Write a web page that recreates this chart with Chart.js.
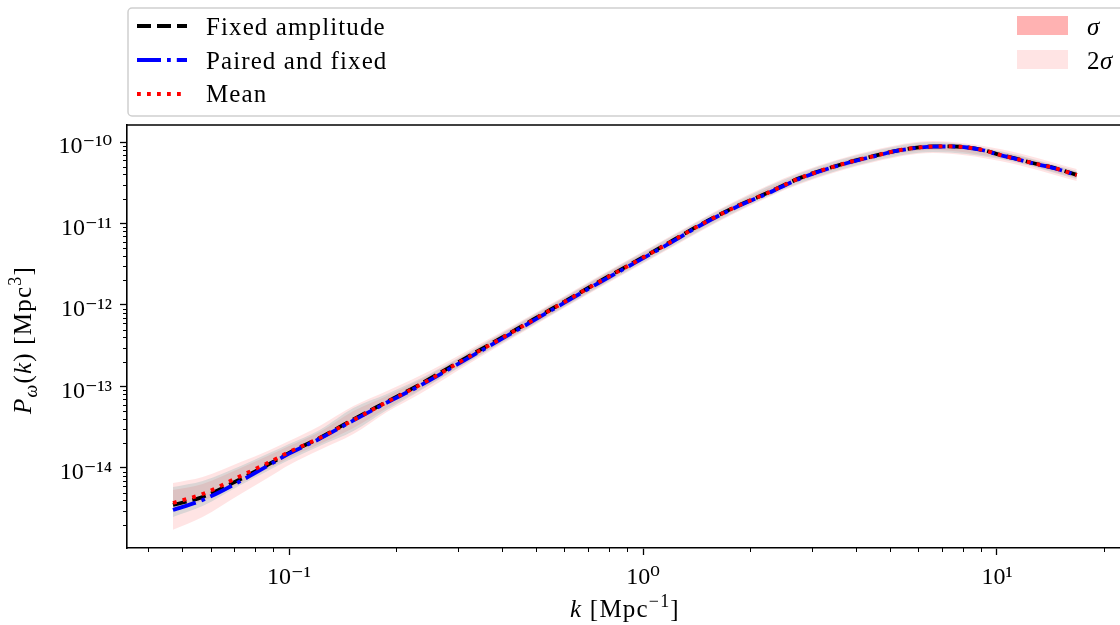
<!DOCTYPE html>
<html><head><meta charset="utf-8">
<script src="https://cdn.jsdelivr.net/npm/chart.js@4.4.1/dist/chart.umd.min.js"></script>
<style>html,body{margin:0;padding:0;background:#fff;overflow:hidden}canvas{display:block}</style>
</head><body>
<canvas id="c" width="1120" height="625"></canvas>
<script>
// ---------------- data ----------------
const kValues = [0.047,0.057,0.073,0.087,0.1,0.122,0.152,0.189,0.234,0.318,0.4,0.49,0.6,0.76,0.95,1.17,1.45,1.8,2.25,2.78,3.84,4.5,5.32,6.6,7.4,8.22,9.2,10.2,11.4,12.6,14.5,16.8];
const fixedAmplitude = [3.52e-15,4.41e-15,7.33e-15,1.09e-14,1.53e-14,2.33e-14,3.95e-14,6.50e-14,1.06e-13,2.28e-13,4.00e-13,6.65e-13,1.10e-12,1.99e-12,3.40e-12,5.65e-12,9.65e-12,1.56e-11,2.38e-11,3.63e-11,5.70e-11,6.75e-11,7.98e-11,8.82e-11,8.86e-11,8.62e-11,7.92e-11,6.96e-11,6.20e-11,5.53e-11,4.81e-11,3.95e-11];
const pairedFixed = [3.05e-15,4.05e-15,6.92e-15,1.06e-14,1.50e-14,2.28e-14,3.83e-14,6.35e-14,1.02e-13,2.18e-13,3.86e-13,6.42e-13,1.07e-12,1.93e-12,3.31e-12,5.50e-12,9.45e-12,1.53e-11,2.34e-11,3.58e-11,5.64e-11,6.68e-11,7.93e-11,8.76e-11,8.82e-11,8.57e-11,7.87e-11,6.92e-11,6.15e-11,5.49e-11,4.77e-11,3.92e-11];
const meanPower = [3.72e-15,4.80e-15,7.98e-15,1.15e-14,1.57e-14,2.33e-14,3.88e-14,6.45e-14,1.04e-13,2.24e-13,3.94e-13,6.55e-13,1.09e-12,1.97e-12,3.37e-12,5.60e-12,9.59e-12,1.55e-11,2.37e-11,3.62e-11,5.69e-11,6.73e-11,7.97e-11,8.80e-11,8.85e-11,8.60e-11,7.90e-11,6.95e-11,6.18e-11,5.52e-11,4.80e-11,3.94e-11];

const bandK = [0.047,0.057,0.073,0.087,0.1,0.122,0.152,0.189,0.234,0.318,0.49,0.76,1.17,1.8,2.78,4.5,6.6,10.2,16.8];
const grayUpper = [5.85e-15,6.93e-15,1.06e-14,1.49e-14,1.97e-14,2.93e-14,5.45e-14,8.09e-14,1.24e-13,2.58e-13,7.54e-13,2.27e-12,6.45e-12,1.78e-11,4.17e-11,7.76e-11,1.00e-10,7.76e-11,4.41e-11];
const grayLower = [2.51e-15,3.42e-15,6.19e-15,9.19e-15,1.25e-14,1.86e-14,2.84e-14,5.15e-14,8.81e-14,1.94e-13,5.68e-13,1.71e-12,4.87e-12,1.35e-11,3.14e-11,5.85e-11,7.54e-11,6.19e-11,3.52e-11];
const sigma1Upper = [5.37e-15,6.36e-15,1.00e-14,1.40e-14,1.86e-14,2.77e-14,5.00e-14,7.65e-14,1.20e-13,2.51e-13,7.33e-13,2.21e-12,6.10e-12,1.69e-11,3.94e-11,7.33e-11,9.45e-11,7.54e-11,4.28e-11];
const sigma1Lower = [3.05e-15,3.94e-15,6.55e-15,9.72e-15,1.33e-14,1.97e-14,3.10e-14,5.45e-14,9.06e-14,2.00e-13,5.85e-13,1.76e-12,5.15e-12,1.42e-11,3.32e-11,6.19e-11,7.98e-11,6.36e-11,3.62e-11];
const sigma2Upper = [6.55e-15,7.76e-15,1.18e-14,1.62e-14,2.14e-14,3.28e-14,5.76e-14,8.81e-14,1.35e-13,2.73e-13,7.76e-13,2.33e-12,6.64e-12,1.84e-11,4.28e-11,7.98e-11,1.03e-10,8.21e-11,4.66e-11];
const sigma2Lower = [1.74e-15,2.51e-15,4.80e-15,7.54e-15,1.09e-14,1.66e-14,2.61e-14,4.87e-14,8.09e-14,1.84e-13,5.52e-13,1.66e-12,4.73e-12,1.31e-11,3.05e-11,5.68e-11,7.33e-11,5.85e-11,3.32e-11];

const seriesLabels = ['Fixed amplitude', 'Paired and fixed', 'Mean'];
const bandLabels = ['σ', '2σ'];
const xMajorTicks = [0.1, 1, 10];
const yMajorTicks = [1e-14, 1e-13, 1e-12, 1e-11, 1e-10];
const xLimits = [0.03485, 22.26];
const yLimits = [1.042e-15, 1.618e-10];
// axis titles as [text, style] parts (i = italic, sup/sub = raised/lowered)
const xTitleParts = [['k','i'],[' [Mpc',''],['−1','sup'],[']','']];
const yTitleParts = [['P','i'],['ω','isub'],['(',''],['k','i'],[') [Mpc',''],['3','sup'],[']','']];

// ---------------- helpers ----------------
const SERIF = '"Liberation Serif", "DejaVu Serif", serif';
const SUP = {'0':'⁰','1':'¹','2':'²','3':'³','4':'⁴','5':'⁵','6':'⁶','7':'⁷','8':'⁸','9':'⁹','-':'⁻'};
function powLabel(v){ const e = Math.round(Math.log10(v)); return '10' + String(e).split('').map(c => SUP[c]).join(''); }
function isMajorValue(v, majors){ return majors.some(m => Math.abs(Math.log10(v) - Math.log10(m)) < 1e-9); }
function logTicks(lim, majors){
  const out = [];
  for (let e = Math.floor(Math.log10(lim[0])); e <= Math.ceil(Math.log10(lim[1])); e++) {
    for (let n = 1; n <= 9; n++) {
      const v = n * Math.pow(10, e);
      if (v >= lim[0] && v <= lim[1]) out.push({value: v, major: isMajorValue(v, majors)});
    }
  }
  return out;
}
const pts = (xs, ys) => xs.map((x, i) => ({x: x, y: ys[i]}));

function fontFor(s, size){
  const small = (s === 'sup' || s === 'sub' || s === 'isub');
  const it = (s === 'i' || s === 'isub');
  return (it ? 'italic ' : '') + (small ? Math.round(size * 0.7) : size) + 'px ' + SERIF;
}
function richWidth(ctx, parts, size){
  let w = 0;
  for (const [t, s] of parts) { ctx.font = fontFor(s, size); w += ctx.measureText(t).width; }
  return w;
}
function drawRich(ctx, parts, x, y, size, align, spacing){
  ctx.letterSpacing = (spacing || 0) + 'px';
  const w = richWidth(ctx, parts, size);
  let cx = align === 'center' ? x - w / 2 : x;
  ctx.textAlign = 'left'; ctx.textBaseline = 'alphabetic';
  for (const [t, s] of parts) {
    ctx.font = fontFor(s, size);
    let dy = 0;
    if (s === 'sup') dy = -0.42 * size;
    if (s === 'sub' || s === 'isub') dy = 0.22 * size;
    ctx.fillText(t, cx, y + dy);
    cx += ctx.measureText(t).width;
  }
  ctx.letterSpacing = '0px';
}
function labelParts(label){
  const parts = [];
  for (const ch of label) {
    const st = /[α-ω]/.test(ch) ? 'i' : '';
    if (parts.length && parts[parts.length - 1][1] === st) parts[parts.length - 1][0] += ch;
    else parts.push([ch, st]);
  }
  return parts;
}

// ---------------- decorations plugin ----------------
const decor = {
  id: 'decor',
  afterDraw(chart) {
    const ctx = chart.ctx, a = chart.chartArea;
    ctx.save();
    // top spine
    ctx.strokeStyle = '#000'; ctx.lineWidth = 1.6;
    ctx.beginPath(); ctx.moveTo(a.left - 0.8, a.top); ctx.lineTo(a.right + 2, a.top); ctx.stroke();
    // minor ticks
    ctx.lineWidth = 1;
    const xs = chart.scales.x, ys = chart.scales.y;
    xs.ticks.forEach(t => { if (!t.major) { const p = Math.round(xs.getPixelForValue(t.value)) + 0.5; ctx.beginPath(); ctx.moveTo(p, a.bottom); ctx.lineTo(p, a.bottom + 4); ctx.stroke(); } });
    ys.ticks.forEach(t => { if (!t.major) { const p = Math.round(ys.getPixelForValue(t.value)) + 0.5; ctx.beginPath(); ctx.moveTo(a.left, p); ctx.lineTo(a.left - 4, p); ctx.stroke(); } });
    // axis titles
    ctx.fillStyle = '#000';
    drawRich(ctx, xTitleParts, 625, 617, 25, 'center', 1.2);
    ctx.save(); ctx.translate(31, 340); ctx.rotate(-Math.PI / 2);
    drawRich(ctx, yTitleParts, 0, 0, 25, 'center', 1.2);
    ctx.restore();
    // legend box
    ctx.strokeStyle = '#cfcfcf'; ctx.lineWidth = 1.5; ctx.fillStyle = 'rgba(255,255,255,0.8)';
    ctx.beginPath(); ctx.roundRect(128, 8, 1010, 108, 4); ctx.fill(); ctx.stroke();
    const rowsLine = [26, 60, 94], rowsBase = [35, 68.5, 102];
    chart.data.datasets.forEach(ds => {
      if (ds.legendRow !== undefined) {
        const r = ds.legendRow;
        ctx.save();
        ctx.strokeStyle = ds.borderColor; ctx.lineWidth = ds.borderWidth; ctx.lineCap = 'butt';
        ctx.setLineDash(ds.borderDash);
        ctx.beginPath(); ctx.moveTo(137, rowsLine[r]); ctx.lineTo(187, rowsLine[r]); ctx.stroke();
        ctx.restore();
        ctx.fillStyle = '#000';
        drawRich(ctx, labelParts(ds.label), 206, rowsBase[r], 25, 'left', 1.1);
      }
      if (ds.legendPatch !== undefined) {
        const r = ds.legendPatch;
        ctx.fillStyle = '#fff'; ctx.fillRect(1017, 16 + 34 * r, 51, 19);
        ctx.fillStyle = ds.backgroundColor; ctx.fillRect(1017, 16 + 34 * r, 51, 19);
        ctx.fillStyle = '#000';
        drawRich(ctx, labelParts(ds.label), 1087, rowsBase[r], 25, 'left', 0.5);
      }
    });
    ctx.restore();
  }
};

// ---------------- chart ----------------
Chart.defaults.color = '#000';
Chart.defaults.font.family = SERIF;

const lineBase = {pointRadius: 0, fill: false, borderWidth: 3.8, borderCapStyle: 'butt', cubicInterpolationMode: 'monotone'};
const bandBase = {pointRadius: 0, borderWidth: 0, borderColor: 'rgba(0,0,0,0)', cubicInterpolationMode: 'monotone'};

new Chart(document.getElementById('c'), {
  type: 'line',
  data: {
    datasets: [
      Object.assign({}, lineBase, {label: seriesLabels[2], data: pts(kValues, meanPower), borderColor: '#ff0000', borderDash: [3.8, 6.2], order: 0, legendRow: 2}),
      Object.assign({}, lineBase, {label: seriesLabels[1], data: pts(kValues, pairedFixed), borderColor: '#0000ff', borderDash: [24, 6, 3.8, 6], order: 1, legendRow: 1}),
      Object.assign({}, lineBase, {label: seriesLabels[0], data: pts(kValues, fixedAmplitude), borderColor: '#000000', borderDash: [14, 6], order: 2, legendRow: 0}),
      Object.assign({}, bandBase, {label: '', data: pts(bandK, grayUpper), fill: '+1', backgroundColor: 'rgba(206,206,206,0.72)', order: 3}),
      Object.assign({}, bandBase, {label: '', data: pts(bandK, grayLower), fill: false, order: 4}),
      Object.assign({}, bandBase, {label: bandLabels[0], data: pts(bandK, sigma1Upper), fill: '+1', backgroundColor: 'rgba(255,0,0,0.3)', order: 5, legendPatch: 0}),
      Object.assign({}, bandBase, {label: '', data: pts(bandK, sigma1Lower), fill: false, order: 6}),
      Object.assign({}, bandBase, {label: bandLabels[1], data: pts(bandK, sigma2Upper), fill: '+1', backgroundColor: 'rgba(255,0,0,0.105)', order: 7, legendPatch: 1}),
      Object.assign({}, bandBase, {label: '', data: pts(bandK, sigma2Lower), fill: false, order: 8})
    ]
  },
  options: {
    responsive: false, animation: false, devicePixelRatio: 1,
    layout: {padding: {top: 125, left: 0, right: 0, bottom: 0}},
    plugins: {legend: {display: false}, tooltip: {enabled: false}},
    scales: {
      x: {
        type: 'logarithmic', min: xLimits[0], max: xLimits[1],
        afterBuildTicks: s => { s.ticks = logTicks(xLimits, xMajorTicks); },
        afterFit: s => { s.height = 77; },
        border: {display: true, color: '#000', width: 1.6},
        grid: {drawOnChartArea: false, tickLength: 7, tickWidth: 1.3, tickColor: c => (c.tick && c.tick.major) ? '#000' : 'rgba(0,0,0,0)'},
        ticks: {autoSkip: false, maxRotation: 0, padding: 8, font: {size: 24, family: SERIF}, callback: (v, i, t) => t[i].major ? powLabel(v) : ''}
      },
      y: {
        type: 'logarithmic', min: yLimits[0], max: yLimits[1],
        afterBuildTicks: s => { s.ticks = logTicks(yLimits, yMajorTicks); },
        afterFit: s => { s.width = 127; },
        border: {display: true, color: '#000', width: 1.6},
        grid: {drawOnChartArea: false, tickLength: 7, tickWidth: 1.3, tickColor: c => (c.tick && c.tick.major) ? '#000' : 'rgba(0,0,0,0)'},
        ticks: {autoSkip: false, padding: 8, labelOffset: 5, font: {size: 24, family: SERIF}, callback: (v, i, t) => t[i].major ? powLabel(v) : ''}
      }
    }
  },
  plugins: [decor]
});
</script>
</body></html>
